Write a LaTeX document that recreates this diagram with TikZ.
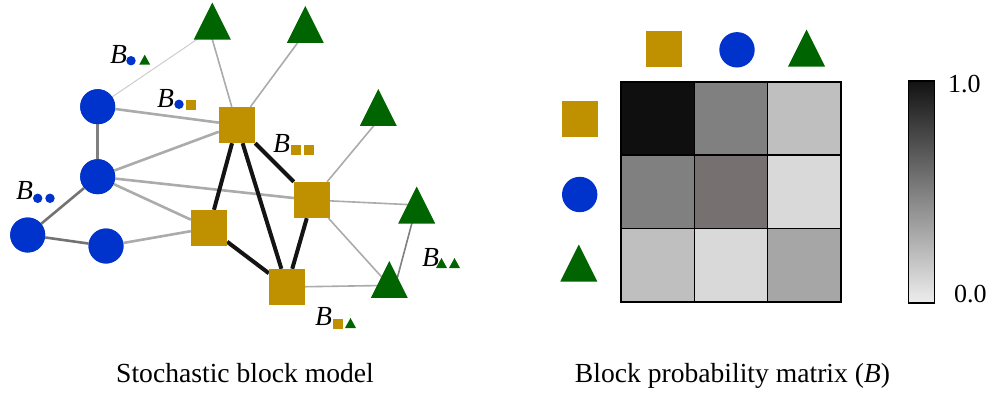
\documentclass[tikz,border=0pt]{standalone}
\usepackage{fontspec}
\setmainfont{Liberation Serif}
\usetikzlibrary{calc}

\definecolor{sbmblue}{HTML}{0033CC}
\definecolor{sbmgold}{HTML}{BF9000}
\definecolor{sbmgreen}{HTML}{006400}
\definecolor{mA}{HTML}{0F0F0F}
\definecolor{mB}{HTML}{808080}
\definecolor{mC}{HTML}{BFBFBF}
\definecolor{mD}{HTML}{767170}
\definecolor{mE}{HTML}{D9D9D9}
\definecolor{mF}{HTML}{A6A6A6}

\begin{document}
\begin{tikzpicture}[x=1pt,y=-1pt,
  circ/.style={circle,fill=sbmblue,minimum size=35pt,inner sep=0pt},
  sq/.style={rectangle,fill=sbmgold,minimum size=36pt,inner sep=0pt},
  scirc/.style={circle,fill=sbmblue,minimum size=9.4pt,inner sep=0pt},
  ssq/.style={rectangle,fill=sbmgold,minimum size=10pt,inner sep=0pt},
  tri/.pic={\fill[sbmgreen] (-18.5,18.5) -- (0,-18.5) -- (18.5,18.5) -- cycle;},
  stri/.pic={\fill[sbmgreen] (-5.5,5) -- (0,-5) -- (5.5,5) -- cycle;},
  blab/.style={font=\fontsize{27.6}{33}\selectfont\itshape,inner sep=0pt,anchor=base west},
  caption/.style={font=\fontsize{27.6}{33}\selectfont,inner sep=0pt,anchor=base},
  ticklab/.style={font=\fontsize{26}{31}\selectfont,inner sep=0pt,anchor=base west},
  faint/.style={draw=black!20,line width=1pt},
  thinedge/.style={draw=black!33,line width=1.6pt},
  midedge/.style={draw=black!33,line width=2.6pt},
  darkedge/.style={draw=black!55,line width=2.6pt},
  strong/.style={draw=black!92,line width=4pt},
]
\useasboundingbox (0,0) rectangle (995,394);

% ---------------- graph ----------------
\node[circ] (c1) at (97.7,106.7) {};
\node[circ] (c2) at (97.7,176.7) {};
\node[circ] (c3) at (27.7,235) {};
\node[circ] (c4) at (106,246) {};

\node[sq] (s1) at (237,125) {};
\node[sq] (s2) at (312,200) {};
\node[sq] (s3) at (209,228) {};
\node[sq] (s4) at (287,287) {};

\coordinate (t1) at (212.3,21);
\coordinate (t2) at (305.3,24.4);
\coordinate (t3) at (378.3,107.4);
\coordinate (t4) at (416.7,205);
\coordinate (t5) at (389.3,279.4);

% edges
\draw[faint] (c1) -- ($(t1)+(0,8)$);
\draw[thinedge] (s1) -- ($(t1)+(-3,8)$);
\draw[thinedge] (s1) -- ($(t2)+(0,8)$);
\draw[midedge] (c1) -- (s1);
\draw[darkedge,draw=black!50] (c1) -- (c2);
\draw[midedge] (c2) -- (s1);
\draw[midedge] (c2) -- (s2);
\draw[midedge] (c2) -- (s3);
\draw[darkedge] (c2) -- (c3);
\draw[darkedge] (c3) -- (c4);
\draw[midedge] (c4) -- (s3);
\draw[strong] (s1) -- (s3);
\draw[strong] (s1) -- (s4);
\draw[strong] (s1) -- (s2);
\draw[strong] (s3) -- (s4);
\draw[strong] (s2) -- (s4);
\draw[thinedge] (s2) -- ($(t3)+(4,8)$);
\draw[thinedge] (s2) -- (t4);
\draw[thinedge] (s2) -- ($(t5)+(0,6)$);
\draw[thinedge] (s4) -- ($(t5)+(0,6)$);
\draw[thinedge,draw=black!50] (t4) -- ($(t5)+(6,6)$);

% redraw nodes over the edges
\foreach \n in {c1,c2,c3,c4} \fill[sbmblue] (\n) circle (17.5);
\foreach \n in {s1,s2,s3,s4} \fill[sbmgold] ($(\n)+(-18,-18)$) rectangle ($(\n)+(18,18)$);
\foreach \n in {t1,t2,t3,t4,t5} \pic at (\n) {tri};

% block labels
\node[blab] (l1) at (110,63) {B};
\node[scirc] (l1a) at (131,60.7) {};
\pic at (144.7,59.7) {stri};

\node[blab] (l2) at (157,107) {B};
\node[scirc] (l2a) at (179,104.3) {};
\node[ssq] (l2b) at (191,105) {};

\node[blab] (l3) at (273,152) {B};
\node[ssq] (l3a) at (296,150) {};
\node[ssq] (l3b) at (309,150) {};

\node[blab] (l4) at (16,199) {B};
\node[scirc] (l4a) at (37.7,198.3) {};
\node[scirc] (l4b) at (50,198.3) {};

\node[blab] (l5) at (422,266) {B};
\pic at (441.5,263) {stri};
\pic at (454.5,263) {stri};

\node[blab] (l6) at (315,325) {B};
\node[ssq] (l6a) at (338,324) {};
\pic at (350.5,323) {stri};

\node[caption] (cap1) at (245,382) {Stochastic block model};

% ---------------- block matrix ----------------
\node[sq] (h1) at (664,49) {};
\node[circ,minimum size=35.4pt] (h2) at (737,49.8) {};
\coordinate (h3) at (806.5,48);
\pic at (h3) {tri};

\node[sq] (r1) at (580,119) {};
\node[circ,minimum size=35.4pt] (r2) at (579.7,194.5) {};
\coordinate (r3) at (578.8,263);
\pic at (r3) {tri};

\foreach \r/\c/\col in {0/0/mA,0/1/mB,0/2/mC,
                        1/0/mB,1/1/mD,1/2/mE,
                        2/0/mC,2/1/mE,2/2/mF}
  \fill[\col] (621+\c*73.33,81.7+\r*73.33) rectangle ++(73.33,73.33);
\foreach \i in {1,2} {
  \draw[line width=1.6pt] (621+\i*73.33,81.7) -- (621+\i*73.33,301.7);
  \draw[line width=1.6pt] (621,81.7+\i*73.33) -- (841,81.7+\i*73.33);
}
\draw[line width=2pt] (621,81.7) rectangle (841,301.7);

% colour bar
\shade[top color=black!93,bottom color=black!7] (908.3,80.7) rectangle (934.3,302.7);
\draw[line width=1.6pt] (908.3,80.7) rectangle (934.3,302.7);
\node[ticklab] (top) at (948,92.5) {1.0};
\node[ticklab] (bot) at (954,302) {0.0};

\node[caption] (cap2) at (732.5,382) {Block probability matrix (\textit{B})};
\end{tikzpicture}
\end{document}
